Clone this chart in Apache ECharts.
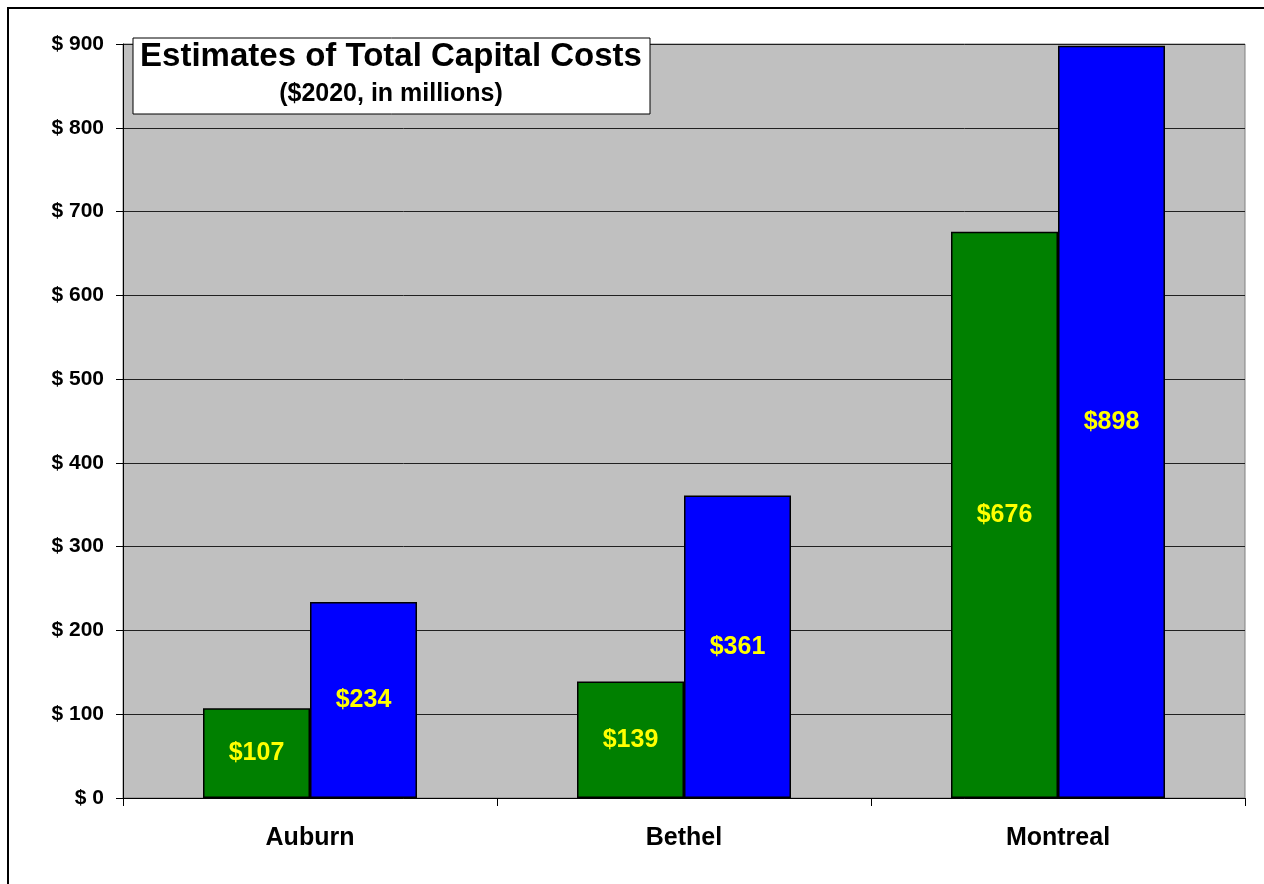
<!DOCTYPE html>
<html><head><meta charset="utf-8">
<script src="https://cdn.jsdelivr.net/npm/echarts@6/dist/echarts.min.js"></script>
<style>html,body{margin:0;padding:0;background:#fff}#c{width:1264px;height:884px}</style>
</head><body><div id="c"></div>
<script>
const categories = ['Auburn', 'Bethel', 'Montreal'];
const seriesA = [107, 139, 676];
const seriesB = [234, 361, 898];
const yTicks = { min: 0, max: 900, interval: 100 };
const titleText = 'Estimates of Total Capital Costs';
const subtitleText = '($2020, in millions)';

const FONT = '"Liberation Sans", Arial, sans-serif';
const chart = echarts.init(document.getElementById('c'), null, { renderer: 'canvas' });
const labelStyle = {
  show: true, position: 'inside', color: '#FFFF00', fontWeight: 'bold',
  fontSize: 25, fontFamily: FONT, formatter: p => '$' + p.value
};
chart.setOption({
  backgroundColor: '#fff',
  animation: false,
  grid: { left: 123, right: 19, top: 44, bottom: 86, show: true, backgroundColor: '#C0C0C0', borderColor: '#808080', borderWidth: 1 },
  xAxis: {
    type: 'category', data: categories,
    axisLine: { lineStyle: { color: '#000', width: 1 } },
    axisTick: { show: true, alignWithLabel: false, length: 8, lineStyle: { color: '#000' } },
    axisLabel: { color: '#000', fontWeight: 'bold', fontSize: 25, fontFamily: FONT, margin: 28 }
  },
  yAxis: {
    type: 'value', min: yTicks.min, max: yTicks.max, interval: yTicks.interval,
    axisLine: { show: true, lineStyle: { color: '#000', width: 1 } },
    axisTick: { show: true, length: 7, lineStyle: { color: '#000' } },
    splitLine: { show: true, lineStyle: { color: '#202020', width: 1 } },
    axisLabel: { color: '#000', fontWeight: 'bold', fontSize: 21, fontFamily: FONT, margin: 19, formatter: v => '$ ' + v }
  },
  series: [
    { type: 'bar', data: seriesA, barWidth: 107, barGap: '0%', itemStyle: { color: '#008000', borderColor: '#000', borderWidth: 1.5 }, label: labelStyle },
    { type: 'bar', data: seriesB, barWidth: 107, barGap: '0%', itemStyle: { color: '#0000FF', borderColor: '#000', borderWidth: 1.5 }, label: labelStyle }
  ],
  graphic: [
    { type: 'rect', z: 0, silent: true, shape: { x: 8, y: 8, width: 1300, height: 1000 }, style: { fill: 'none', stroke: '#000', lineWidth: 2 } },
    { type: 'rect', z: 100, shape: { x: 133, y: 38, width: 517, height: 76 }, style: { fill: '#fff', stroke: '#000', lineWidth: 1 } },
    { type: 'text', z: 101, x: 391, y: 57, style: { text: titleText, fill: '#000', font: 'bold 33px ' + FONT, textAlign: 'center', textVerticalAlign: 'middle' } },
    { type: 'text', z: 101, x: 391, y: 94, style: { text: subtitleText, fill: '#000', font: 'bold 25px ' + FONT, textAlign: 'center', textVerticalAlign: 'middle' } }
  ]
});
</script></body></html>
